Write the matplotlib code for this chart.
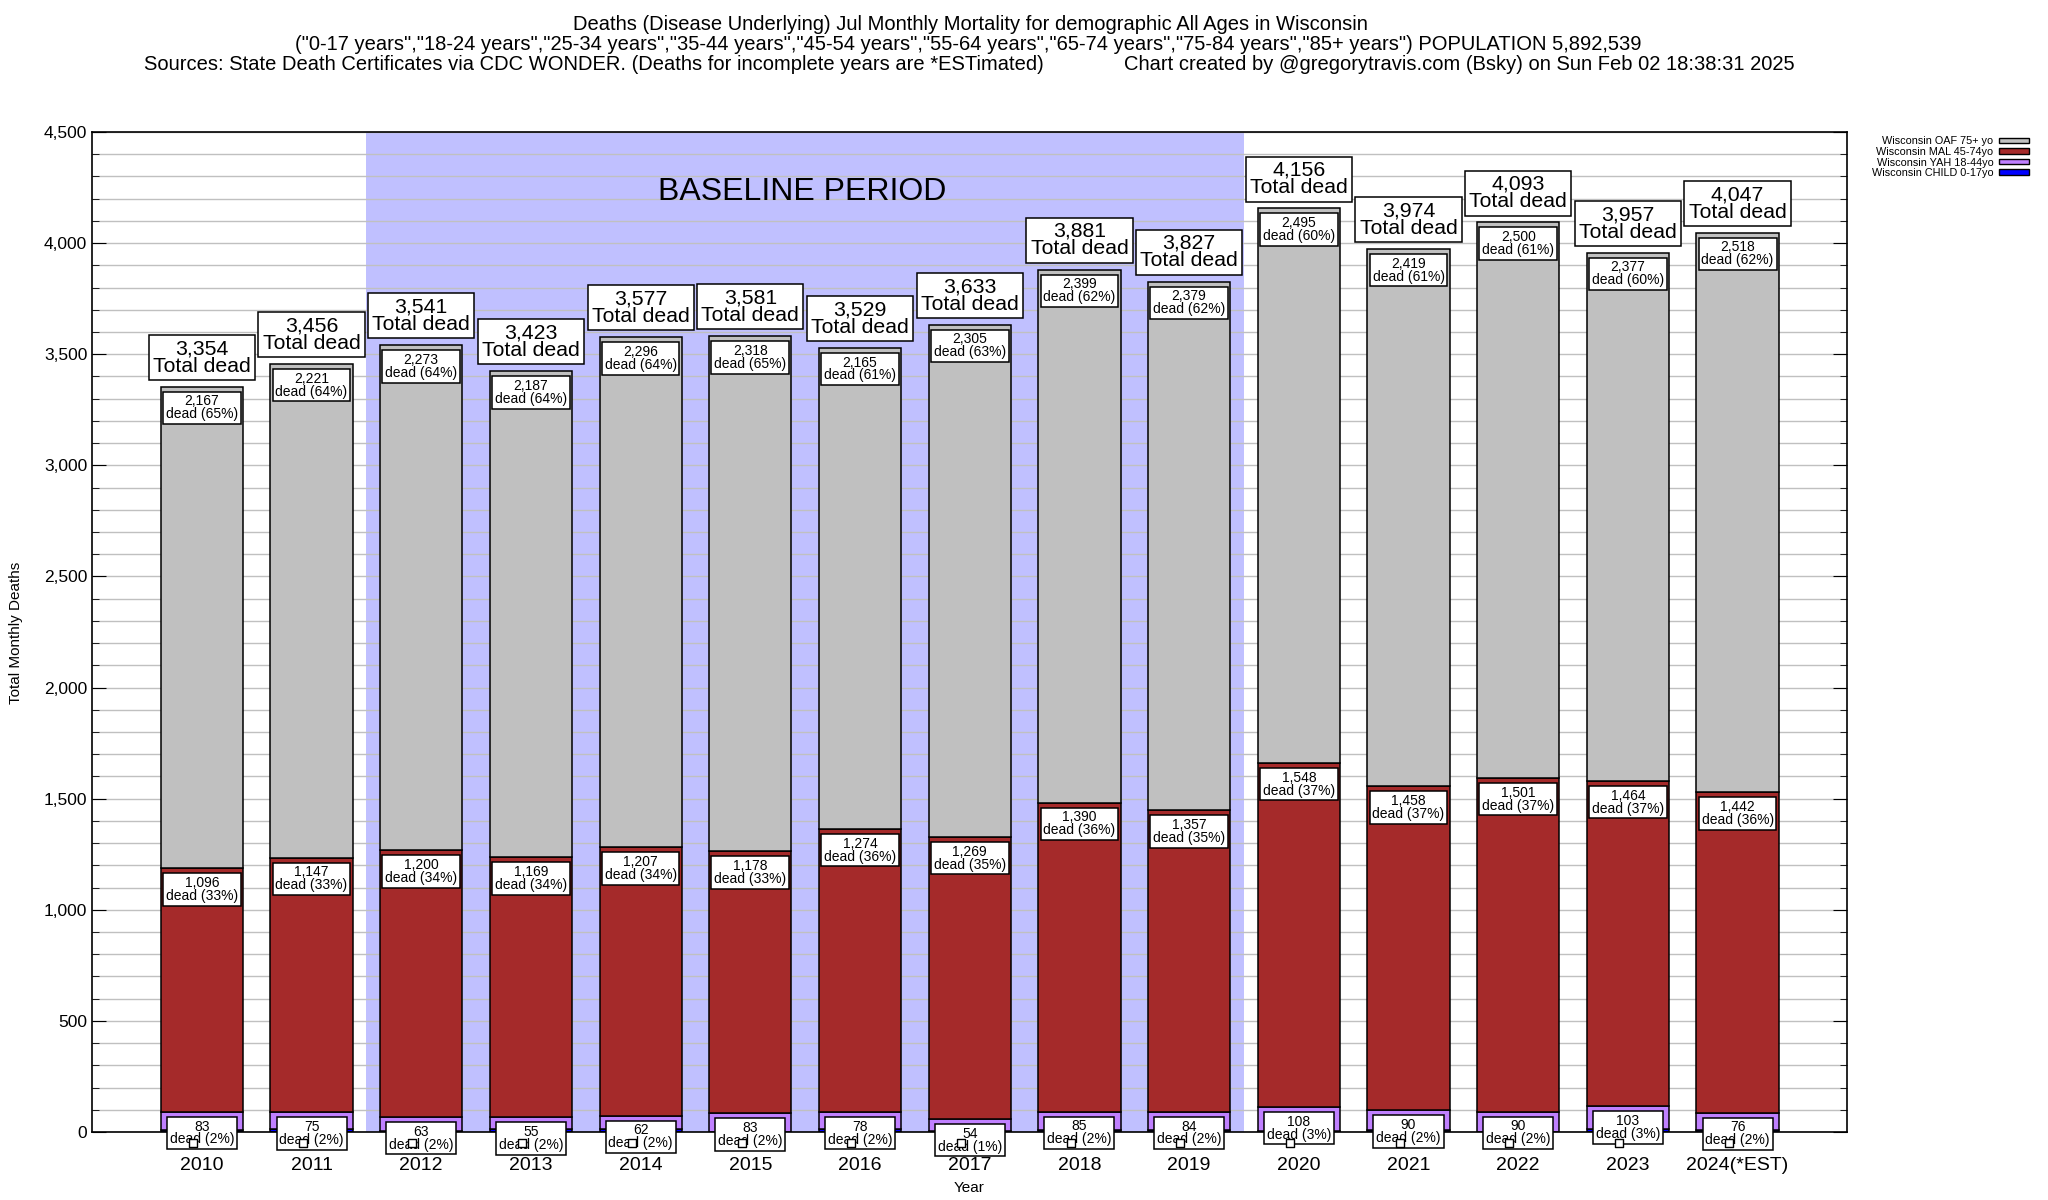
import numpy as np
import matplotlib.pyplot as plt
from matplotlib.patches import Patch
from matplotlib.ticker import MultipleLocator, FuncFormatter

plt.rcParams['font.family'] = ['Liberation Sans', 'DejaVu Sans']

years = ['2010', '2011', '2012', '2013', '2014', '2015', '2016', '2017',
         '2018', '2019', '2020', '2021', '2022', '2023', '2024(*EST)']
oaf = [2167, 2221, 2273, 2187, 2296, 2318, 2165, 2305, 2399, 2379, 2495, 2419, 2500, 2377, 2518]
mal = [1096, 1147, 1200, 1169, 1207, 1178, 1274, 1269, 1390, 1357, 1548, 1458, 1501, 1464, 1442]
yah = [83, 75, 63, 55, 62, 83, 78, 54, 85, 84, 108, 90, 90, 103, 76]
child = [8, 13, 5, 12, 12, 2, 12, 5, 7, 7, 5, 7, 2, 13, 11]

series_names = ['Wisconsin OAF 75+ yo', 'Wisconsin MAL 45-74yo',
                'Wisconsin YAH 18-44yo', 'Wisconsin CHILD 0-17yo']
series_colors = ['#c0c0c0', '#a52a2a', '#c080ff', '#0000ff']

x = np.arange(len(years))
child_a = np.array(child)
yah_a = np.array(yah)
mal_a = np.array(mal)
oaf_a = np.array(oaf)
totals = child_a + yah_a + mal_a + oaf_a

fig = plt.figure(figsize=(20.48, 12), dpi=100)
ax = fig.add_axes([0.045, 0.0567, 0.857, 0.8333])

ax.axvspan(1.5, 9.5, color='#c0c0ff', zorder=0.2, lw=0)
ax.text(5.47, 4230, 'BASELINE PERIOD', ha='center', va='center', fontsize=23)

w = 0.75
ek = dict(edgecolor='black', linewidth=1.1, zorder=2)
ax.bar(x, child_a, w, color=series_colors[3], **ek)
ax.bar(x, yah_a, w, bottom=child_a, color=series_colors[2], **ek)
ax.bar(x, mal_a, w, bottom=child_a + yah_a, color=series_colors[1], **ek)
ax.bar(x, oaf_a, w, bottom=child_a + yah_a + mal_a, color=series_colors[0], **ek)

box = dict(boxstyle='square,pad=0.2', fc='white', ec='black', lw=1.1)
for i in range(len(years)):
    t = totals[i]
    ax.text(x[i], t + 50, f'{t:,}\nTotal dead', ha='center', va='bottom',
            fontsize=15.3, linespacing=0.9, bbox=box, zorder=4)
    for val, top in [(oaf_a[i], t), (mal_a[i], t - oaf_a[i]),
                     (yah_a[i], child_a[i] + yah_a[i])]:
        pct = int(val / t * 100 + 0.5)
        ax.text(x[i], top - 35, f'{val:,}\ndead ({pct}%)', ha='center', va='top',
                fontsize=10, linespacing=0.9, bbox=box, zorder=4)
ax.scatter(x - 0.08, np.full(len(x), -50), marker='s', s=30, facecolor='white',
           edgecolor='black', lw=1, clip_on=False, zorder=5)

ax.set_xlim(-1, 15)
ax.set_ylim(0, 4500)
ax.set_xticks(x, years, fontsize=14)
ax.tick_params(axis='x', length=0, pad=18)
ax.yaxis.set_major_locator(MultipleLocator(500))
ax.yaxis.set_minor_locator(MultipleLocator(100))
ax.yaxis.set_major_formatter(FuncFormatter(lambda v, p: f'{int(v):,}'))
ax.tick_params(axis='y', which='major', direction='in', length=10, labelsize=12.5, right=True)
ax.tick_params(axis='y', which='minor', direction='in', length=5, right=True)
ax.yaxis.grid(True, which='both', color='#c0c0c0', lw=1)
ax.set_axisbelow(True)
for s in ax.spines.values():
    s.set_linewidth(1.2)

fig.text(0.008, 0.4725, 'Total Monthly Deaths', rotation=90, ha='center', va='center', fontsize=11)
fig.text(0.473, 0.01, 'Year', ha='center', va='center', fontsize=11)

fig.text(0.4737, 0.98, 'Deaths (Disease Underlying) Jul Monthly Mortality for demographic All Ages in Wisconsin',
         ha='center', va='center', fontsize=14.5)
fig.text(0.473, 0.963, '("0-17 years","18-24 years","25-34 years","35-44 years","45-54 years","55-64 years",'
         '"65-74 years","75-84 years","85+ years") POPULATION 5,892,539',
         ha='center', va='center', fontsize=14.5)
fig.text(0.0703, 0.946, 'Sources: State Death Certificates via CDC WONDER. (Deaths for incomplete years are *ESTimated)',
         ha='left', va='center', fontsize=14.5)
fig.text(0.8765, 0.946, 'Chart created by @gregorytravis.com (Bsky) on Sun Feb 02 18:38:31 2025',
         ha='right', va='center', fontsize=14.5)

handles = [Patch(facecolor=c, edgecolor='black', lw=1) for c in series_colors]
fig.legend(handles, series_names, loc='upper right', bbox_to_anchor=(2034 / 2048, 1 - 131 / 1200),
           frameon=False, markerfirst=False, fontsize=7.8, handlelength=2.7, handleheight=0.4,
           labelspacing=0.05, borderpad=0, handletextpad=0.55)

fig.savefig('out.png', dpi=100)
